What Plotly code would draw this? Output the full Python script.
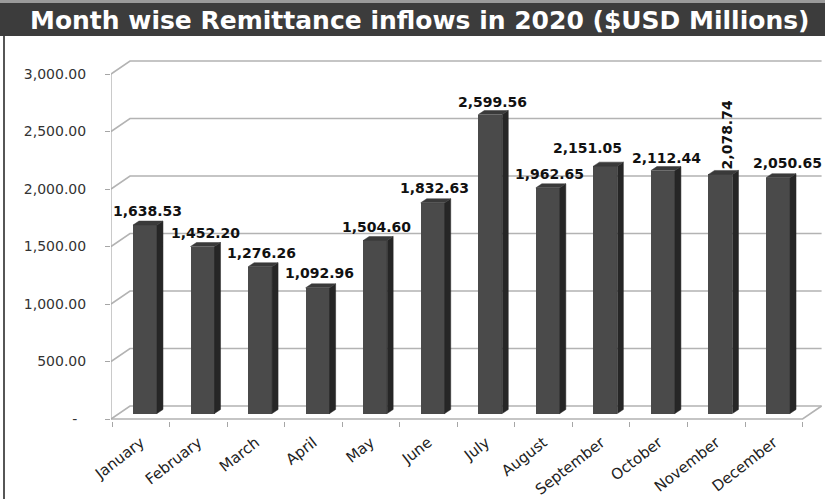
import plotly.graph_objects as go

# ---- data -------------------------------------------------------------
months = ["January", "February", "March", "April", "May", "June",
          "July", "August", "September", "October", "November", "December"]
remittance = [1638.53, 1452.20, 1276.26, 1092.96, 1504.60, 1832.63,
              2599.56, 1962.65, 2151.05, 2112.44, 2078.74, 2050.65]
y_ticks = [0, 500, 1000, 1500, 2000, 2500, 3000]
y_tick_labels = ["-\u00a0\u00a0", "500.00", "1,000.00", "1,500.00",
                 "2,000.00", "2,500.00", "3,000.00"]

# ---- page / plot geometry (pixels) -------------------------------------
W, H = 825, 499
L_PX, R_PX = 111, 824          # plot area left/right
T_PX, B_PX = 45, 421           # plot area top/bottom
CAT_PX = 57.55                 # width of one category
X_START_PX = 112               # left boundary of first category (front)
KY = 0.115                     # pixels per USD million
Y0_FRONT = 419.0               # zero line of the front (axis) plane
Y0_BAR = 413.5                 # zero line of the bar plane
BAR_SHIFT_PX = 4.2             # bar plane horizontal shift
BACK_DX_PX, BACK_DY_PX = 19, 13.0   # depth of back wall
BAR_W = 0.417                  # bar width in category units
SIDE_DX_PX, SIDE_DY_PX = 6.0, 4.0   # bar depth (side/top faces)

x_lo = -0.5 + (L_PX - X_START_PX) / CAT_PX
x_hi = -0.5 + (R_PX - X_START_PX) / CAT_PX
y_lo = (Y0_FRONT - B_PX) / KY
y_hi = (Y0_FRONT - T_PX) / KY

bar_dx = BAR_SHIFT_PX / CAT_PX
bar_dy = (Y0_FRONT - Y0_BAR) / KY
back_dx = BACK_DX_PX / CAT_PX
back_dy = BACK_DY_PX / KY
side_dx = SIDE_DX_PX / CAT_PX
side_dy = SIDE_DY_PX / KY


def px_x(px):
    return (px - L_PX) / (R_PX - L_PX)


def px_y(py):
    return (B_PX - py) / (B_PX - T_PX)


FRONT_FACE = "#4a4a4a"
SIDE_FACE = "#262626"
TOP_FACE = "#3a3a3a"
GRID = "#b3b3b3"
AXIS = "#a6a6a6"

idx = list(range(len(months)))
fig = go.Figure()

# front faces of the bars
fig.add_trace(go.Bar(
    x=idx, y=remittance, width=BAR_W, xaxis="x2", yaxis="y2",
    marker=dict(color=FRONT_FACE, line=dict(width=0)),
    hoverinfo="skip", showlegend=False))

# side and top faces of the bars
side_x, side_y, top_x, top_y = [], [], [], []
for i, v in zip(idx, remittance):
    r = i + BAR_W / 2
    l = i - BAR_W / 2
    side_x += [r, r + side_dx, r + side_dx, r, r, None]
    side_y += [0, side_dy, v + side_dy, v, 0, None]
    top_x += [l, r, r + side_dx, l + side_dx, l, None]
    top_y += [v, v, v + side_dy, v + side_dy, v, None]

fig.add_trace(go.Scatter(
    x=side_x, y=side_y, xaxis="x2", yaxis="y2", mode="lines",
    fill="toself", fillcolor=SIDE_FACE, line=dict(width=0.5, color=SIDE_FACE),
    hoverinfo="skip", showlegend=False))
fig.add_trace(go.Scatter(
    x=top_x, y=top_y, xaxis="x2", yaxis="y2", mode="lines",
    fill="toself", fillcolor=TOP_FACE, line=dict(width=0.5, color=TOP_FACE),
    hoverinfo="skip", showlegend=False))

shapes = []
# back wall gridlines with their connectors to the front axis
x_front_left = -0.5 + (L_PX - X_START_PX) / CAT_PX
x_back_right = 11.5 + back_dx
for v in y_ticks:
    shapes.append(dict(
        type="path", xref="x", yref="y", layer="below",
        path=(f"M {x_front_left},{v} L {x_front_left + back_dx},{v + back_dy} "
              f"L {x_back_right},{v + back_dy}"),
        line=dict(color=GRID, width=1.6)))
# floor front edge and right edge
shapes.append(dict(
    type="path", xref="x", yref="y", layer="below",
    path=(f"M {x_front_left},0 L 11.5,0 L {x_back_right},{back_dy}"),
    line=dict(color=GRID, width=1.6)))
# front value axis line
shapes.append(dict(
    type="line", xref="x", yref="y", layer="below",
    x0=x_front_left, x1=x_front_left, y0=0, y1=y_ticks[-1],
    line=dict(color=AXIS, width=1.2)))

# title bar and frame
shapes.append(dict(type="rect", xref="paper", yref="paper",
                   x0=px_x(0), x1=px_x(W), y0=px_y(36), y1=px_y(3),
                   fillcolor="#3c3c3c", line=dict(width=0), layer="below"))
shapes.append(dict(type="rect", xref="paper", yref="paper",
                   x0=px_x(0), x1=px_x(W), y0=px_y(3), y1=px_y(0),
                   fillcolor="#9a9a9a", line=dict(width=0), layer="below"))
shapes.append(dict(type="line", xref="paper", yref="paper",
                   x0=px_x(4), x1=px_x(4), y0=px_y(36), y1=px_y(H),
                   line=dict(color="#1e1e1e", width=1.5)))

annotations = [dict(
    text="Month wise Remittance inflows in 2020 ($USD Millions)",
    xref="paper", yref="paper", x=px_x(420), y=px_y(20),
    xanchor="center", yanchor="middle", showarrow=False,
    font=dict(family="DejaVu Sans", size=25, color="white", weight="bold"))]

# value labels above the bars
label_dx = [2.5, 2.5, 1, 2, 1.5, 2, 2, 2, -18, 4, 6.5, 9]
label_dy = [13.6, 14, 13.5, 14.5, 13, 15, 13, 14, 18.6, 13, 40, 15]
label_angle = [0, 0, 0, 0, 0, 0, 0, 0, 0, 0, -90, 0]
for i, v in zip(idx, remittance):
    annotations.append(dict(
        text=f"{v:,.2f}", xref="x2", yref="y2", x=i, y=v,
        xshift=label_dx[i], yshift=label_dy[i], textangle=label_angle[i],
        xanchor="center", yanchor="middle", showarrow=False,
        font=dict(family="DejaVu Sans", size=14, color="#111111",
                  weight="bold")))

fig.update_layout(
    width=W, height=H,
    margin=dict(l=L_PX, r=W - R_PX, t=T_PX, b=H - B_PX, pad=0),
    paper_bgcolor="white", plot_bgcolor="rgba(0,0,0,0)",
    showlegend=False, bargap=0,
    xaxis=dict(range=[x_lo, x_hi], tickmode="array", tickvals=idx,
               ticktext=months, ticks="", tickangle=-38, automargin=False,
               tickfont=dict(family="DejaVu Sans", size=15, color="#222222"),
               showgrid=False, zeroline=False, showline=False,
               ticklabelstandoff=9,
               minor=dict(tickmode="array",
                          tickvals=[k - 0.5 for k in range(len(months) + 1)],
                          ticks="outside", ticklen=5, tickcolor=AXIS,
                          tickwidth=1.2, showgrid=False)),
    yaxis=dict(range=[y_lo, y_hi], tickmode="array", tickvals=y_ticks,
               ticktext=y_tick_labels, ticks="outside", ticklen=5,
               tickcolor=AXIS, tickwidth=1.2, ticklabelstandoff=16,
               automargin=False,
               tickfont=dict(family="DejaVu Sans", size=14, color="#333333"),
               showgrid=False, zeroline=False, showline=False),
    xaxis2=dict(range=[x_lo - bar_dx, x_hi - bar_dx], overlaying="x",
                visible=False, automargin=False),
    yaxis2=dict(range=[y_lo - bar_dy, y_hi - bar_dy], overlaying="y",
                visible=False, automargin=False),
    shapes=shapes, annotations=annotations,
)

fig.write_html("out.html")
